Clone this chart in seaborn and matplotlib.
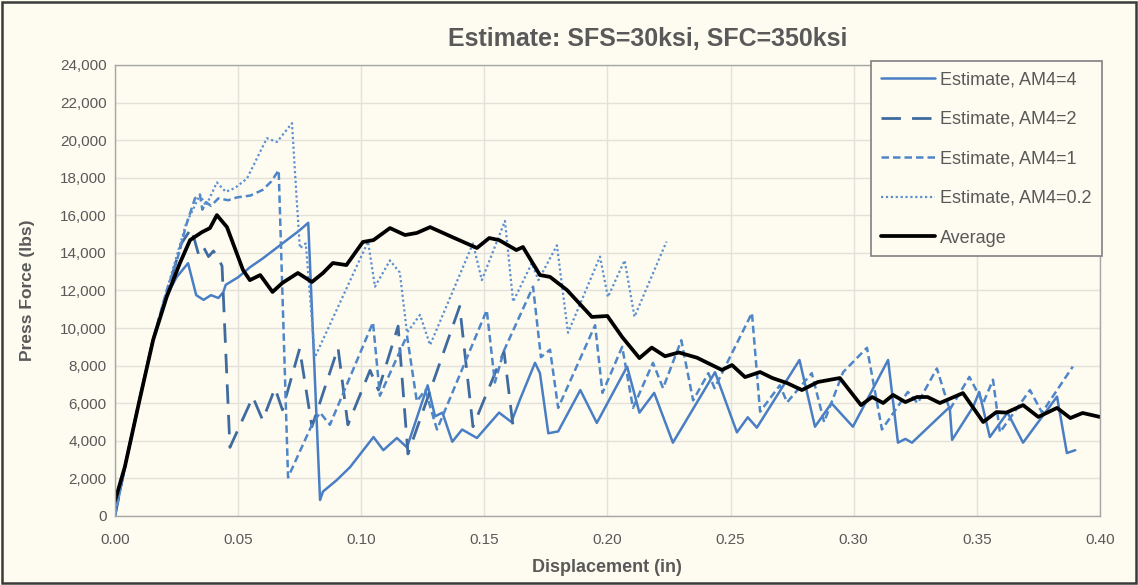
import matplotlib
matplotlib.use("Agg")
import matplotlib.pyplot as plt
import matplotlib.ticker as mticker
from matplotlib.patches import Rectangle
from matplotlib.lines import Line2D
import seaborn as sns
import numpy as np

# ---------------- data ----------------
am4_4_x = [0.000, 0.004, 0.010, 0.0155, 0.021, 0.025, 0.0297, 0.033, 0.036, 0.039, 0.042, 0.044, 0.045,
           0.050, 0.055, 0.060, 0.067, 0.075, 0.0785, 0.0833, 0.0845, 0.090, 0.0955, 0.105, 0.109, 0.1145,
           0.1186, 0.127, 0.130, 0.133, 0.137, 0.141, 0.147, 0.156, 0.161, 0.1645, 0.1706, 0.1726, 0.176,
           0.180, 0.189, 0.1957, 0.208, 0.213, 0.219, 0.2266, 0.2437, 0.2526, 0.257, 0.2607, 0.278, 0.2843,
           0.291, 0.2997, 0.314, 0.318, 0.321, 0.3237, 0.339, 0.340, 0.3485, 0.351, 0.3553, 0.3625, 0.3688,
           0.3826, 0.3866, 0.390]
am4_4_y = [0, 2600, 6200, 9400, 11700, 12700, 13450, 11750, 11500, 11750, 11600, 11900, 12300,
           12700, 13250, 13700, 14400, 15200, 15600, 850, 1300, 1900, 2600, 4200, 3500, 4150,
           3650, 6950, 5300, 5500, 3950, 4600, 4150, 5500, 5000, 6200, 8150, 7600, 4400,
           4500, 6700, 4950, 7950, 5500, 6550, 3900, 7650, 4450, 5250, 4700, 8300, 4750,
           6000, 4750, 8300, 3900, 4100, 3900, 5800, 4050, 5800, 6600, 4200, 5500, 3900,
           6350, 3350, 3500]

am4_2_x = [0.000, 0.004, 0.010, 0.0155, 0.021, 0.027, 0.031, 0.034, 0.036, 0.038, 0.040, 0.042, 0.0435,
           0.0467, 0.056, 0.060, 0.065, 0.068, 0.075, 0.080, 0.0906, 0.0946, 0.1036, 0.107, 0.115, 0.119,
           0.140, 0.1454, 0.158, 0.1617]
am4_2_y = [0, 2600, 6200, 9400, 11800, 14500, 15300, 13900, 14300, 13800, 14100, 13700, 13300,
           3650, 6330, 5100, 6800, 5650, 8900, 4750, 8950, 4850, 7750, 6700, 10100, 3300,
           11150, 4750, 8750, 4750]

am4_1_x = [0.000, 0.004, 0.010, 0.0155, 0.021, 0.025, 0.029, 0.0325, 0.0345, 0.0355, 0.037, 0.039, 0.042,
           0.046, 0.0495, 0.055, 0.060, 0.0635, 0.0665, 0.0703, 0.080, 0.0833, 0.0873, 0.1048, 0.1076,
           0.1186, 0.1226, 0.126, 0.1308, 0.151, 0.1543, 0.158, 0.1698, 0.173, 0.1767, 0.180, 0.195,
           0.198, 0.206, 0.2104, 0.2185, 0.2226, 0.230, 0.2348, 0.241, 0.2435, 0.2587, 0.262, 0.270,
           0.273, 0.283, 0.288, 0.2957, 0.3054, 0.3115, 0.322, 0.326, 0.3338, 0.339, 0.347, 0.3526,
           0.3566, 0.3594, 0.3716, 0.3765, 0.389]
am4_1_y = [0, 2600, 6200, 9400, 12000, 13500, 15500, 16900, 17100, 16300, 16700, 16500, 16900,
           16800, 16950, 17050, 17350, 17800, 18400, 2050, 4850, 5500, 4850, 10300, 6400,
           9600, 6100, 6700, 4600, 10950, 7100, 8800, 12200, 8450, 8850, 5750, 10150,
           6550, 9000, 5750, 8150, 6800, 9350, 6150, 7600, 6800, 10800, 5550, 6950,
           6050, 7600, 5000, 7650, 8950, 4600, 6600, 6000, 7850, 5650, 7400, 6000,
           7250, 4450, 6700, 5500, 7950]

am4_02_x = [0.000, 0.004, 0.010, 0.0155, 0.021, 0.025, 0.029, 0.0317, 0.0345, 0.037, 0.0414, 0.045,
            0.0487, 0.0536, 0.0617, 0.0658, 0.0719, 0.0735, 0.0751, 0.0775, 0.0812, 0.1028, 0.1056,
            0.1117, 0.1157, 0.1186, 0.1239, 0.128, 0.1454, 0.149, 0.1584, 0.1617, 0.1693, 0.172,
            0.1795, 0.184, 0.197, 0.2002, 0.207, 0.211, 0.224]
am4_02_y = [0, 2600, 6200, 9400, 12000, 13800, 15600, 16300, 17100, 16500, 17750, 17250,
            17450, 17950, 20100, 19900, 20900, 17500, 14250, 14500, 8450, 14600, 12200,
            13600, 12950, 9750, 10700, 9100, 14500, 12550, 15700, 11400, 13450, 12550,
            14400, 9750, 13800, 11650, 13600, 10600, 14600]

avg_x = [0.000, 0.004, 0.010, 0.0155, 0.021, 0.0264, 0.0305, 0.0353, 0.0386, 0.0414, 0.0455, 0.052,
         0.0548, 0.059, 0.064, 0.068, 0.0743, 0.080, 0.0845, 0.0885, 0.094, 0.1007, 0.105, 0.1117,
         0.1178, 0.1226, 0.128, 0.137, 0.147, 0.152, 0.156, 0.163, 0.1657, 0.1726, 0.1767, 0.1836,
         0.1937, 0.200, 0.206, 0.213, 0.218, 0.2234, 0.229, 0.2364, 0.2465, 0.2506, 0.2559, 0.262,
         0.267, 0.273, 0.279, 0.2855, 0.2944, 0.303, 0.3075, 0.312, 0.316, 0.321, 0.3257, 0.33,
         0.335, 0.3444, 0.3526, 0.358, 0.362, 0.3688, 0.375, 0.3826, 0.388, 0.393, 0.40]
avg_y = [800, 2600, 6170, 9360, 11650, 13460, 14680, 15100, 15320, 16010, 15370, 13090,
         12550, 12820, 11920, 12400, 12930, 12450, 12930, 13460, 13350, 14580, 14680, 15320,
         14950, 15060, 15370, 14840, 14260, 14790, 14680, 14150, 14310, 12820, 12720, 12020,
         10590, 10640, 9520, 8400, 8960, 8500, 8700, 8420, 7770, 8030, 7390, 7660,
         7340, 7070, 6700, 7130, 7340, 5900, 6330, 6010, 6440, 6060, 6330, 6330,
         6010, 6540, 5000, 5530, 5500, 5900, 5270, 5750, 5210, 5480, 5270]

series_labels = ["Estimate, AM4=4", "Estimate, AM4=2", "Estimate, AM4=1",
                 "Estimate, AM4=0.2", "Average"]
title_text = "Estimate: SFS=30ksi, SFC=350ksi"
x_label = "Displacement (in)"
y_label = "Press Force (lbs)"
x_ticks = [0.00, 0.05, 0.10, 0.15, 0.20, 0.25, 0.30, 0.35, 0.40]
y_ticks = list(range(0, 24001, 2000))

# ---------------- style ----------------
BG = "#fefcf0"
TXT = "#595959"
sns.set_theme(style="whitegrid")
plt.rcParams["font.family"] = ["Liberation Sans", "DejaVu Sans"]

fig = plt.figure(figsize=(11.38, 5.85), dpi=100, facecolor=BG)
ax = fig.add_axes([0.101, 0.118, 0.8655, 0.771])
ax.set_facecolor(BG)

styles = [
    dict(color="#4a7ec4", linewidth=1.8, linestyle="-"),
    dict(color="#3f6b9f", linewidth=2.0, linestyle=(0, (7, 4))),
    dict(color="#4f86c8", linewidth=1.8, linestyle=(0, (3, 1.6))),
    dict(color="#5b8fd0", linewidth=1.6, linestyle=(0, (1, 1.2))),
    dict(color="#000000", linewidth=2.7, linestyle="-"),
]
data = [(am4_4_x, am4_4_y), (am4_2_x, am4_2_y), (am4_1_x, am4_1_y),
        (am4_02_x, am4_02_y), (avg_x, avg_y)]

for (xs, ys), st, lab in zip(data, styles, series_labels):
    sns.lineplot(x=np.array(xs), y=np.array(ys), ax=ax, sort=False, estimator=None,
                 label=lab, **st)

ax.set_xlim(0, 0.40)
ax.set_ylim(0, 24000)
ax.set_xticks(x_ticks)
ax.set_yticks(y_ticks)
ax.xaxis.set_major_formatter(mticker.FormatStrFormatter("%.2f"))
ax.yaxis.set_major_formatter(mticker.FuncFormatter(lambda v, p: f"{int(v):,}"))
ax.tick_params(axis="both", labelsize=11, colors=TXT, length=0)
ax.tick_params(axis="x", pad=12)
ax.tick_params(axis="y", pad=6)
ax.grid(True, color="#e3e1da", linewidth=1.0)
for sp in ax.spines.values():
    sp.set_color("#a6a6a6")
    sp.set_linewidth(1.0)

ax.set_xlabel(x_label, fontsize=13, fontweight="bold", color=TXT, labelpad=9)
ax.set_ylabel(y_label, fontsize=12.5, fontweight="bold", color=TXT, labelpad=18)
fig.text(0.569, 0.933, title_text, ha="center", va="center", fontsize=18,
         fontweight="bold", color=TXT)

handles = [Line2D([0], [0], **st) for st in styles]
leg = ax.legend(handles, series_labels, loc="upper right", bbox_to_anchor=(1.002, 1.008),
                fontsize=13, frameon=True, fancybox=False, handlelength=3.0,
                labelspacing=1.25, borderpad=0.55, handletextpad=0.3, borderaxespad=0.0)
leg.get_frame().set_edgecolor("#808080")
leg.get_frame().set_facecolor(BG)
leg.get_frame().set_alpha(1)
leg.get_frame().set_linewidth(1.2)
for t in leg.get_texts():
    t.set_color(TXT)

fig.patches.append(Rectangle((0.002, 0.003), 0.996, 0.994, transform=fig.transFigure,
                             fill=False, edgecolor="#3a3a3a", linewidth=1.8))

fig.savefig("out.png", dpi=100, facecolor=BG)
